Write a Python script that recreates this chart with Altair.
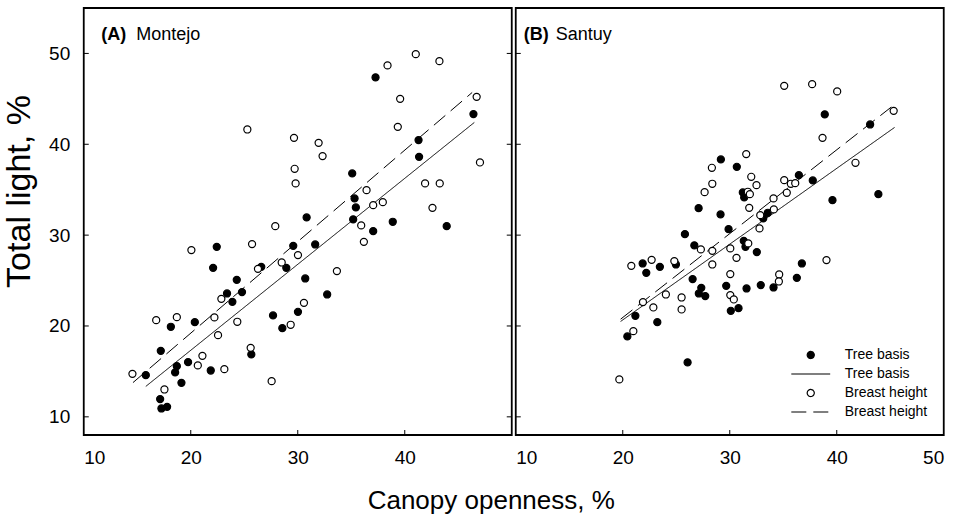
import altair as alt
import pandas as pd

# ---- Montejo (panel A) ----
montejo_tree_x = [22.43, 37.27, 46.42, 41.29, 41.34, 35.09, 35.31, 35.43, 35.18, 37.05,
                  38.88, 43.92, 30.83, 29.58, 31.63, 22.09, 26.59, 28.93, 24.30, 30.70,
                  23.39, 24.79, 23.89, 32.75, 27.69, 30.02, 28.56, 20.38, 18.14, 17.20,
                  25.66, 18.70, 18.54, 19.75, 21.87, 15.80, 19.13, 17.14, 17.26, 17.79]
montejo_tree_y = [28.71, 47.36, 43.32, 40.46, 38.62, 36.79, 34.04, 33.05, 31.73, 30.44,
                  31.47, 30.99, 31.95, 28.82, 28.97, 26.40, 26.51, 26.40, 25.08, 25.23,
                  23.58, 23.73, 22.66, 23.47, 21.16, 21.56, 19.76, 20.42, 19.91, 17.26,
                  16.87, 15.58, 14.89, 16.02, 15.10, 14.59, 13.74, 11.95, 10.92, 11.10]
montejo_breast_x = [20.06, 25.29, 29.65, 31.95, 32.32, 29.71, 29.80, 27.90, 25.73, 30.02,
                    36.43, 37.05, 37.95, 35.93, 36.18, 38.39, 41.03, 43.24, 39.57, 39.35,
                    46.72, 47.03, 41.90, 43.27, 42.59, 26.28, 28.50, 33.66, 22.86, 22.21,
                    24.35, 30.58, 29.34, 16.77, 18.70, 22.55, 25.60, 21.09, 20.66, 23.14,
                    14.55, 17.54, 27.56]
montejo_breast_y = [28.35, 41.63, 40.71, 40.16, 38.70, 37.30, 35.69, 30.99, 29.01, 27.80,
                    34.95, 33.30, 33.63, 31.07, 29.26, 48.68, 49.92, 49.15, 45.00, 41.92,
                    45.22, 38.00, 35.69, 35.69, 33.00, 26.29, 26.99, 26.04, 22.99, 20.94,
                    20.46, 22.55, 20.13, 20.64, 20.97, 18.99, 17.59, 16.71, 15.66, 15.25,
                    14.73, 13.01, 13.93]

# ---- Santuy (panel B) ----
santuy_tree_x = [38.88, 43.12, 29.17, 30.66, 31.22, 31.35, 36.46, 37.76, 43.89, 39.60,
                 27.09, 29.14, 29.89, 25.81, 26.69, 33.13, 33.56, 31.31, 31.47, 32.53,
                 21.86, 22.20, 23.47, 24.97, 26.53, 27.34, 27.11, 27.71, 29.67, 30.10,
                 30.82, 31.57, 32.90, 34.09, 36.27, 36.74, 21.18, 23.23, 20.43, 26.06]
santuy_tree_y = [43.29, 42.18, 38.33, 37.52, 34.70, 34.15, 36.60, 36.02, 34.51, 33.85,
                 32.97, 32.28, 30.66, 30.11, 28.87, 31.84, 32.46, 29.37, 28.71, 28.13,
                 26.88, 25.85, 26.51, 26.77, 25.16, 24.20, 23.58, 23.29, 24.42, 21.67,
                 21.96, 24.13, 24.50, 24.24, 25.30, 26.88, 21.12, 20.42, 18.85, 15.99]
santuy_breast_x = [35.09, 37.70, 40.04, 45.32, 38.67, 31.54, 28.33, 28.37, 27.65, 32.01,
                   32.50, 31.69, 31.88, 31.82, 35.09, 35.71, 36.12, 35.33, 34.09, 34.12,
                   32.85, 32.78, 41.75, 27.30, 28.37, 30.05, 31.73, 30.63, 28.37, 30.05,
                   24.82, 22.70, 20.80, 24.03, 25.50, 25.50, 22.86, 21.89, 30.05, 30.38,
                   34.62, 34.59, 39.04, 20.99, 19.68]
santuy_breast_y = [46.43, 46.62, 45.82, 43.68, 40.71, 38.92, 37.41, 35.65, 34.73, 36.42,
                   35.50, 34.77, 34.51, 33.00, 36.05, 35.65, 35.72, 34.66, 34.04, 32.83,
                   32.20, 30.74, 37.96, 28.43, 28.27, 28.54, 29.09, 27.50, 26.77, 25.71,
                   27.14, 27.28, 26.62, 23.47, 23.14, 21.82, 22.04, 22.63, 23.40, 22.92,
                   25.67, 24.90, 27.25, 19.43, 14.12]

# ---- fitted regression lines (end points) ----
montejo_fit_tree_x = [15.8, 46.5]
montejo_fit_tree_y = [13.35, 42.4]
montejo_fit_breast_x = [14.6, 46.3]
montejo_fit_breast_y = [13.77, 45.7]
santuy_fit_tree_x = [19.8, 45.4]
santuy_fit_tree_y = [20.5, 41.85]
santuy_fit_breast_x = [19.8, 45.1]
santuy_fit_breast_y = [20.75, 44.1]

panel_tags = ["(A)", "(B)"]
site_names = ["Montejo", "Santuy"]
y_ticks = [10, 20, 30, 40, 50]
x_ticks_a = [10, 20, 30, 40]
x_ticks_b = [10, 20, 30, 40, 50]

FONT = "Liberation Sans"
W, H = 428, 427
TICK = 5

# one merged legend: points and lines keyed on the same domain
keys = ["Tree basis", "Tree basis ", "Breast height", "Breast height "]
line_path = "M-5.5,0H5.5"
shape_scale = alt.Scale(domain=keys, range=["circle", line_path, "circle", line_path])
fill_scale = alt.Scale(domain=keys, range=["black", "transparent", "white", "transparent"])
stroke_scale = alt.Scale(domain=keys, range=["black", "black", "black", "black"])
dash_scale = alt.Scale(domain=keys, range=[[1, 0], [1, 0], [1, 0], [15, 7]])

x_scale = alt.Scale(domain=[10, 50], nice=False, zero=False)
y_scale = alt.Scale(domain=[8, 55], nice=False, zero=False)


def panel(tx, ty, bx, by, ftx, fty, fbx, fby, tag, name, xvals, first, tag_x, name_dx):
    pts = pd.DataFrame({
        "x": tx + bx,
        "y": ty + by,
        "key": [keys[0]] * len(tx) + [keys[2]] * len(bx),
    })
    fits = pd.DataFrame({
        "x": ftx + fbx,
        "y": fty + fby,
        "key": [keys[1]] * len(ftx) + [keys[3]] * len(fbx),
    })
    if first:
        leg = None
        y_axis = alt.Axis(values=y_ticks, title="Total light, %", labelPadding=14,
                          titleFontSize=34, titleAngle=270, titleAlign="center",
                          titleBaseline="alphabetic", titleX=-54, titleY=183)
    else:
        leg = alt.Legend(orient="bottom-right", title=None, labelFontSize=14,
                         labelFont=FONT, labelColor="black", labelOffset=27,
                         rowPadding=5, offset=16, symbolStrokeWidth=1.2, symbolSize=50)
        y_axis = alt.Axis(values=y_ticks, labels=False, title=None)
    x_axis = alt.Axis(values=xvals, title=None, labelPadding=13)

    xenc = alt.X("x:Q", scale=x_scale, axis=x_axis)
    yenc = alt.Y("y:Q", scale=y_scale, axis=y_axis)

    lines = alt.Chart(fits).mark_line(strokeWidth=1).encode(
        x=xenc, y=yenc,
        stroke=alt.Stroke("key:N", scale=stroke_scale, legend=leg),
        strokeDash=alt.StrokeDash("key:N", scale=dash_scale, legend=leg),
    )
    points = alt.Chart(pts).mark_point(filled=True, strokeWidth=1.2,
                                       size=50, opacity=1).encode(
        x=xenc, y=yenc,
        shape=alt.Shape("key:N", scale=shape_scale, legend=leg),
        fill=alt.Fill("key:N", scale=fill_scale, legend=leg),
        stroke=alt.Stroke("key:N", scale=stroke_scale, legend=leg),
    )

    xt = pd.DataFrame({"t": [v for v in xvals if 10 < v < 50]})
    yt = pd.DataFrame({"t": y_ticks})
    xtick = alt.Chart(xt).mark_rule(color="black", strokeWidth=1).encode(
        x=alt.X("t:Q", scale=x_scale, axis=x_axis), y=alt.value(H), y2=alt.value(H - TICK))
    ytick_l = alt.Chart(yt).mark_rule(color="black", strokeWidth=1).encode(
        y=alt.Y("t:Q", scale=y_scale, axis=y_axis), x=alt.value(0), x2=alt.value(TICK))
    layers = [lines, points, xtick, ytick_l]
    if first:
        ytick_r = alt.Chart(yt).mark_rule(color="black", strokeWidth=1).encode(
            y=alt.Y("t:Q", scale=y_scale, axis=y_axis), x=alt.value(W - TICK), x2=alt.value(W))
        layers.append(ytick_r)

    lab = pd.DataFrame({"tag": [tag], "name": [name]})
    tag_txt = alt.Chart(lab).mark_text(align="left", baseline="alphabetic", font=FONT,
                                       fontSize=18, fontWeight="bold", color="black").encode(
        x=alt.value(tag_x), y=alt.value(32), text="tag:N")
    name_txt = alt.Chart(lab).mark_text(align="left", baseline="alphabetic", font=FONT,
                                        fontSize=18, color="black").encode(
        x=alt.value(tag_x + name_dx), y=alt.value(32), text="name:N")
    layers += [tag_txt, name_txt]

    return alt.layer(*layers).properties(width=W, height=H)


left = panel(montejo_tree_x, montejo_tree_y, montejo_breast_x, montejo_breast_y,
             montejo_fit_tree_x, montejo_fit_tree_y, montejo_fit_breast_x, montejo_fit_breast_y,
             panel_tags[0], site_names[0], x_ticks_a, True, 17.5, 35)
right = panel(santuy_tree_x, santuy_tree_y, santuy_breast_x, santuy_breast_y,
              santuy_fit_tree_x, santuy_fit_tree_y, santuy_fit_breast_x, santuy_fit_breast_y,
              panel_tags[1], site_names[1], x_ticks_b, False, 8, 32)

chart = alt.hconcat(left, right, spacing=0).resolve_scale(
    shape="independent", fill="independent", stroke="independent",
    strokeDash="independent"
).properties(
    title=alt.TitleParams("Canopy openness, %", orient="bottom", anchor="middle",
                          font=FONT, fontSize=26, fontWeight="normal", color="black",
                          offset=20, dx=18),
    padding={"left": 1.75, "top": 7, "right": 5, "bottom": 2},
).configure_view(
    stroke="black", strokeWidth=1.8
).configure_axis(
    labelFont=FONT, labelFontSize=19, labelColor="black", ticks=False, domain=False,
    grid=False, titleFont=FONT, titleFontSize=26, titleFontWeight="normal",
    titleColor="black"
)

chart.save("out.html", embed_options={"renderer": "svg", "actions": False})
